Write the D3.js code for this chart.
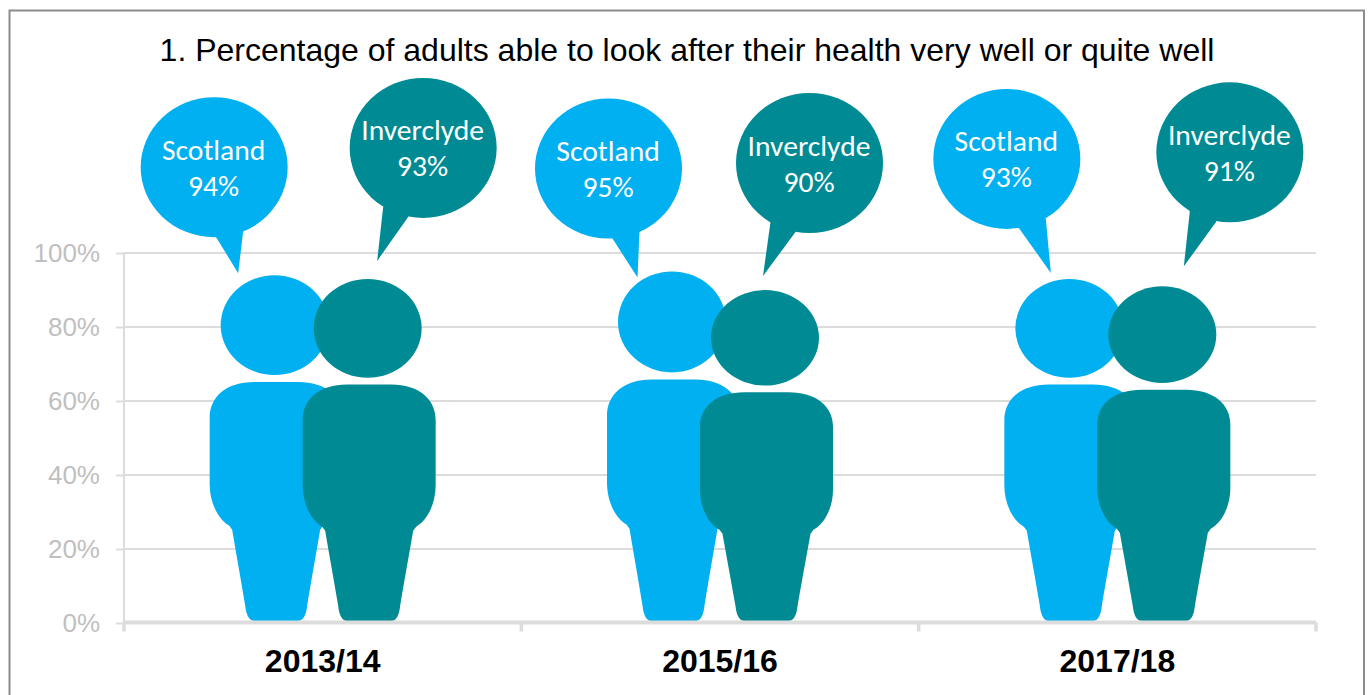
<!DOCTYPE html>
<html>
<head>
<meta charset="utf-8">
<script src="https://cdn.jsdelivr.net/npm/d3@7"></script>
<style>
  html, body { margin: 0; padding: 0; background: #fff; overflow: hidden; }
  svg { display: block; }
</style>
</head>
<body>
<svg id="chart" width="1368" height="695"></svg>
<script>
const titleText = "1. Percentage of adults able to look after their health very well or quite well";
const periods = ["2013/14", "2015/16", "2017/18"];
const seriesNames = ["Scotland", "Inverclyde"];
const scotland = [94, 95, 93];
const inverclyde = [93, 90, 91];
const percentTicks = [0, 20, 40, 60, 80, 100];

const seriesColor = { Scotland: "#00b0f0", Inverclyde: "#008b94" };
const seriesValues = { Scotland: scotland, Inverclyde: inverclyde };

// Speech-bubble placement per series and period, relative to the figure's head-top point:
// c = bubble centre, a/b = where the tail leaves the bubble, t = tail tip.
const bubbleLayout = {
  Scotland: [
    { c: [-62, -108], a: [-60, -38], b: [-33, -44], t: [-38, -2] },
    { c: [-65, -103], a: [-61, -33], b: [-34, -40], t: [-36, 6] },
    { c: [-64, -120], a: [-52, -51], b: [-25, -60], t: [-20, -6] }
  ],
  Inverclyde: [
    { c: [54, -131], a: [14, -72], b: [39, -62], t: [8, -18] },
    { c: [43, -127], a: [4, -68], b: [29, -58], t: [-3.5, -14] },
    { c: [66, -134], a: [26, -75], b: [52, -64], t: [20, -20] }
  ]
};

const svg = d3.select("#chart");

const margin = { top: 253, left: 124, right: 1316, bottom: 623 };
const x0 = d3.scaleBand().domain(periods).range([margin.left, margin.right]);
const x1 = d3.scaleBand().domain(seriesNames).range([-93, 93]);
const y = d3.scaleLinear().domain([0, 100]).range([margin.bottom, margin.top]);

// Outer frame: open along the bottom edge of the page
svg.append("path")
  .attr("d", "M9.5,695 V10.5 H1364 V695")
  .attr("fill", "none")
  .attr("stroke", "#8c8c8c")
  .attr("stroke-width", 2);

// Title
svg.append("text")
  .attr("x", 687)
  .attr("y", 60.5)
  .attr("text-anchor", "middle")
  .attr("font-family", "'Liberation Sans', Arial, sans-serif")
  .attr("font-size", 32)
  .attr("fill", "#000")
  .text(titleText);

// Value axis with full-width gridlines
const yAxis = svg.append("g")
  .attr("transform", `translate(${margin.left},0)`)
  .call(d3.axisLeft(y)
    .tickValues(percentTicks)
    .tickFormat(d => d + "%")
    .tickSize(8)
    .tickPadding(16));
yAxis.selectAll(".tick line").attr("stroke", "#dcdcdc").attr("stroke-width", 2);
yAxis.select(".domain").attr("stroke", "#dcdcdc").attr("stroke-width", 2).attr("d", `M0,${y(100)}V${y(0)}`);
yAxis.selectAll("text")
  .attr("font-family", "'Liberation Sans', Arial, sans-serif")
  .attr("font-size", 26)
  .attr("fill", "#bfbfbf");

svg.append("g")
  .selectAll("line")
  .data(percentTicks.filter(d => d > 0))
  .join("line")
  .attr("x1", margin.left)
  .attr("x2", margin.right)
  .attr("y1", d => y(d))
  .attr("y2", d => y(d))
  .attr("stroke", "#dcdcdc")
  .attr("stroke-width", 2);

// One person figure: x offsets are in pixels from the figure's centre, heights are
// fractions of the value, so a larger value gives a taller figure of the same width.
function bodyPath(cx, value) {
  const h = y(0) - y(value);
  const px = dx => cx + dx;
  const py = f => y(0) - f * h;
  const p = d3.path();
  p.moveTo(px(-22), py(0.006));
  p.lineTo(px(22), py(0.006));
  p.bezierCurveTo(px(27), py(0.006), px(30), py(0.022), px(31), py(0.05));
  p.bezierCurveTo(px(35), py(0.12), px(40), py(0.2), px(44), py(0.268));
  p.lineTo(px(47), py(0.28));
  p.bezierCurveTo(px(59), py(0.30), px(66.5), py(0.35), px(66.5), py(0.40));
  p.lineTo(px(66.5), py(0.59));
  p.bezierCurveTo(px(66.5), py(0.65), px(50), py(0.693), px(22), py(0.693));
  p.lineTo(px(-22), py(0.693));
  p.bezierCurveTo(px(-50), py(0.693), px(-66.5), py(0.65), px(-66.5), py(0.59));
  p.lineTo(px(-66.5), py(0.40));
  p.bezierCurveTo(px(-66.5), py(0.35), px(-59), py(0.30), px(-47), py(0.28));
  p.lineTo(px(-44), py(0.268));
  p.bezierCurveTo(px(-40), py(0.2), px(-35), py(0.12), px(-31), py(0.05));
  p.bezierCurveTo(px(-30), py(0.022), px(-27), py(0.006), px(-22), py(0.006));
  p.closePath();
  return p.toString();
}

const figures = periods.flatMap((period, i) =>
  seriesNames.map(name => ({
    period, i, name,
    value: seriesValues[name][i],
    cx: x0(period) + x0.bandwidth() / 2 + x1(name) + x1.bandwidth() / 2
  })));

const figure = svg.append("g").selectAll("g")
  .data(figures)
  .join("g")
  .attr("fill", d => seriesColor[d.name]);

figure.append("ellipse")
  .attr("cx", d => d.cx - 1.5)
  .attr("cy", d => y(d.value) + (y(0) - y(d.value)) * 0.1435)
  .attr("rx", 54)
  .attr("ry", d => (y(0) - y(d.value)) * 0.1435);

figure.append("path").attr("d", d => bodyPath(d.cx, d.value));

// Category axis sits on top of the figures' feet
const xAxis = svg.append("g")
  .attr("transform", `translate(0,${margin.bottom - 0.5})`)
  .call(d3.axisBottom(x0).tickSize(0).tickPadding(27));
xAxis.select(".domain").attr("stroke", "#dcdcdc").attr("stroke-width", 4)
  .attr("d", `M${margin.left},0H${margin.right}`);
xAxis.selectAll("text")
  .attr("font-family", "'Liberation Sans', Arial, sans-serif")
  .attr("font-size", 32)
  .attr("font-weight", "bold")
  .attr("fill", "#000");

const boundaries = periods.map(p => x0(p)).concat(margin.right);
xAxis.selectAll(".boundary")
  .data(boundaries)
  .join("line")
  .attr("class", "boundary")
  .attr("x1", d => d)
  .attr("x2", d => d)
  .attr("y1", 0)
  .attr("y2", 9)
  .attr("stroke", "#dcdcdc")
  .attr("stroke-width", 3.5);

// Speech bubbles naming each series and its value
const bubble = svg.append("g").selectAll("g")
  .data(figures)
  .join("g")
  .attr("transform", d => `translate(${d.cx},${y(d.value)})`)
  .attr("fill", d => seriesColor[d.name]);

const layoutOf = d => bubbleLayout[d.name][d.i];

bubble.append("ellipse")
  .attr("cx", d => layoutOf(d).c[0])
  .attr("cy", d => layoutOf(d).c[1])
  .attr("rx", 73.5)
  .attr("ry", 70);

bubble.append("path")
  .attr("d", d => {
    const l = layoutOf(d);
    return d3.line()([l.a, l.t, l.b, l.c]) + "Z";
  });

const bubbleFont = "Carlito, Lato, sans-serif";
bubble.append("text")
  .attr("x", d => layoutOf(d).c[0] - 0.5)
  .attr("y", d => layoutOf(d).c[1] - 7.5)
  .attr("text-anchor", "middle")
  .attr("font-family", bubbleFont)
  .attr("font-weight", 300)
  .attr("font-size", 29.6)
  .attr("fill", "#fff")
  .text(d => d.name);

bubble.append("text")
  .attr("x", d => layoutOf(d).c[0] - 0.5)
  .attr("y", d => layoutOf(d).c[1] + 28.5)
  .attr("text-anchor", "middle")
  .attr("font-family", bubbleFont)
  .attr("font-weight", 300)
  .attr("font-size", 29.6)
  .attr("fill", "#fff")
  .text(d => d.value + "%");
</script>
</body>
</html>
